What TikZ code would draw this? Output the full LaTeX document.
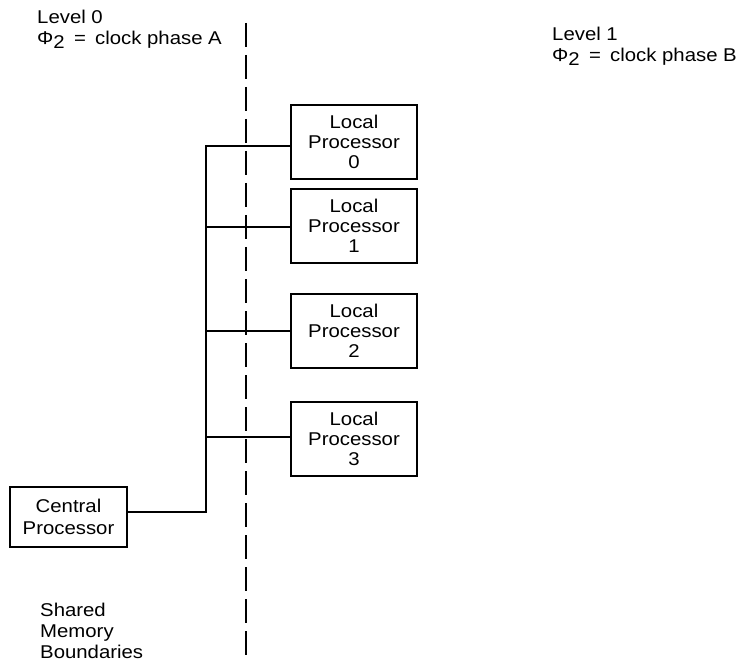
\documentclass[tikz,border=0pt]{standalone}
\usepackage{fontspec}
\setmainfont{Liberation Sans}[FakeStretch=1.1]
\begin{document}
\begin{tikzpicture}[x=1pt,y=-1pt,
  every node/.style={inner sep=0pt},
  txt/.style={font=\fontsize{18.5}{21}\selectfont, align=left, anchor=north west},
  procbox/.style={draw, line width=1.5pt, minimum width=126pt, minimum height=74pt,
                  font=\fontsize{18.5}{20}\selectfont, align=center},
  cpbox/.style={draw, line width=1.5pt, minimum width=117pt, minimum height=60pt,
                  font=\fontsize{18.5}{22}\selectfont, align=center},
  conn/.style={line width=1.3pt},
  boundary/.style={line width=1.4pt, dash pattern=on 24pt off 8pt}]
\useasboundingbox (0,0) rectangle (739,663);

% labels
\node[txt] (lvl0) at (37,10) {Level 0\\[0pt]Φ\raisebox{-0.4ex}{2}\hspace{0.5em}=\hspace{0.5em}clock phase A};
\node[txt] (lvl1) at (552,27) {Level 1\\[0pt]Φ\raisebox{-0.4ex}{2}\hspace{0.5em}=\hspace{0.5em}clock phase B};
\node[txt] (smb) at (40,603) {Shared\\Memory\\Boundaries};

% boundary
\coordinate (dtop) at (246,23);
\coordinate (dbot) at (246,662);
\draw[boundary] (dtop) -- (dbot);

% processors
\node[procbox] (lp0) at (354,142) {Local\\Processor\\0};
\node[procbox] (lp1) at (354,226) {Local\\Processor\\1};
\node[procbox] (lp2) at (354,331) {Local\\Processor\\2};
\node[procbox] (lp3) at (354,439) {Local\\Processor\\3};
\node[cpbox] (cp) at (68.5,517) {Central\\Processor};

% bus
\coordinate (b0) at (206,146);
\coordinate (b1) at (206,227);
\coordinate (b2) at (206,331);
\coordinate (b3) at (206,437);
\coordinate (bc) at (206,512);
\draw[conn] (cp.east |- bc) -- (bc) -- (b0) -- (b0 -| lp0.west);
\draw[conn] (b1) -- (b1 -| lp1.west);
\draw[conn] (b2) -- (b2 -| lp2.west);
\draw[conn] (b3) -- (b3 -| lp3.west);
\end{tikzpicture}
\end{document}
